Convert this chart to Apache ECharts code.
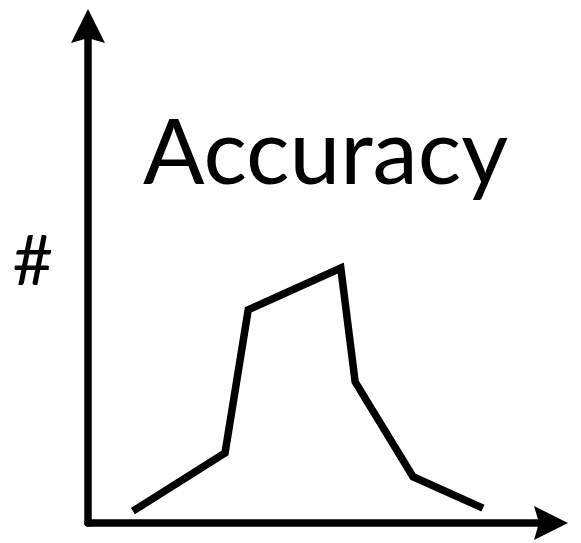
<!DOCTYPE html>
<html>
<head>
<meta charset="utf-8">
<script src="https://cdn.jsdelivr.net/npm/echarts@6/dist/echarts.min.js"></script>
<style>
  html, body { margin: 0; padding: 0; background: #fff; }
  #chart { width: 581px; height: 543px; }
</style>
</head>
<body>
<div id="chart"></div>
<script>
// accuracy values (x) and counts (y)
const accuracyVals = [9.7, 29.6, 34.6, 54.6, 57.7, 70.2, 85.3];
const countVals = [2.4, 14.1, 42.9, 51.3, 28.4, 9.3, 3.0];
const titleText = "Accuracy";
const yName = "#";

const arrowPath = "path://M17,0 L34,34 L17,29 L0,34 Z";

const chart = echarts.init(document.getElementById("chart"));
const option = {
  animation: false,
  backgroundColor: "#fff",
  title: {
    text: titleText,
    left: 138,
    top: 104,
    textStyle: {
      fontFamily: "Lato",
      fontWeight: "normal",
      fontSize: 91,
      color: "#000",
    },
  },
  grid: {
    left: 88,
    right: 30,
    top: 26,
    bottom: 20,
  },
  xAxis: {
    type: "value",
    min: 0,
    max: 100,
    axisLine: {
      show: true,
      symbol: ["none", arrowPath],
      symbolSize: [34, 34],
      lineStyle: { color: "#000", width: 7.5 },
    },
    axisTick: { show: false },
    axisLabel: { show: false },
    splitLine: { show: false },
  },
  yAxis: {
    type: "value",
    min: 0,
    max: 100,
    name: yName,
    nameLocation: "middle",
    nameRotate: 0,
    nameGap: 35,
    nameTextStyle: {
      fontFamily: "Lato",
      fontSize: 70,
      color: "#000",
      verticalAlign: "bottom",
      lineHeight: 24,
    },
    axisLine: {
      show: true,
      symbol: ["none", arrowPath],
      symbolSize: [34, 34],
      lineStyle: { color: "#000", width: 7.5 },
    },
    axisTick: { show: false },
    axisLabel: { show: false },
    splitLine: { show: false },
  },
  series: [
    {
      type: "line",
      data: accuracyVals.map((x, i) => [x, countVals[i]]),
      showSymbol: false,
      lineStyle: { color: "#000", width: 7.5, cap: "butt", join: "miter" },
    },
  ],
};
chart.setOption(option);
</script>
</body>
</html>
